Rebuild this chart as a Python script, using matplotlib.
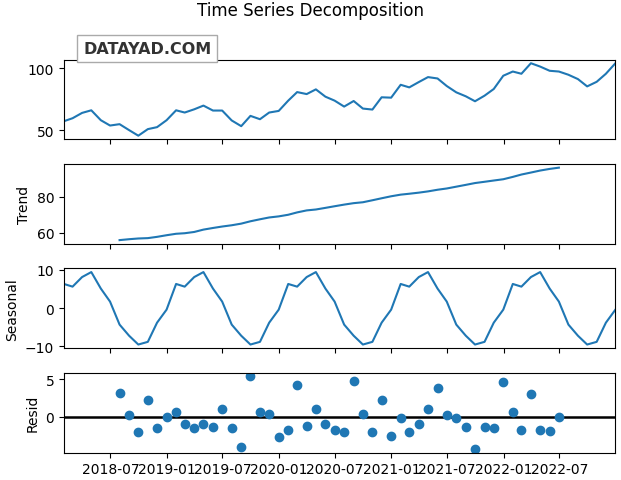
import matplotlib
matplotlib.use("Agg")
import matplotlib.pyplot as plt
import matplotlib.dates as mdates
import numpy as np
import pandas as pd

# monthly dates, month-end, 2018-01 .. 2022-12
dates = pd.date_range("2018-02-01", periods=60, freq="MS") - pd.Timedelta(days=1)

observed = [57.2, 59.6, 63.9, 66.0, 58.0, 53.7, 54.8, 50.0, 45.5, 50.8,
            52.4, 58.0, 66.0, 64.2, 66.8, 69.8, 65.8, 65.8, 57.8, 53.2,
            61.5, 58.8, 64.2, 65.5, 73.8, 80.7, 79.1, 82.9, 77.0, 73.8,
            69.0, 73.5, 67.4, 66.6, 76.5, 76.2, 86.6, 84.5, 88.8, 92.8,
            91.7, 85.6, 80.5, 77.3, 73.3, 77.8, 83.2, 93.9, 97.3, 95.5,
            104.0, 101.3, 97.9, 97.3, 94.7, 91.2, 85.3, 89.0, 95.5, 104.0]

# trend exists from 2018-07 to 2022-06 (6 missing at each end)
trend_vals = [56.0, 56.5, 56.9, 57.1, 57.8, 58.7, 59.5, 59.8, 60.5, 61.8,
              62.7, 63.5, 64.2, 65.1, 66.4, 67.5, 68.5, 69.1, 70.0, 71.3,
              72.4, 72.9, 73.8, 74.7, 75.6, 76.4, 76.9, 78.0, 79.1, 80.2,
              81.1, 81.6, 82.2, 82.9, 83.8, 84.5, 85.5, 86.5, 87.5, 88.2,
              88.9, 89.6, 90.9, 92.2, 93.3, 94.4, 95.3, 96.0]

seasonal = [6.3, 5.6, 8.1, 9.4, 5.1, 1.7, -4.3, -7.2, -9.5, -8.8, -3.8, -0.4,
            6.3, 5.6, 8.1, 9.4, 5.1, 1.7, -4.3, -7.2, -9.5, -8.8, -3.8, -0.4,
            6.3, 5.6, 8.1, 9.4, 5.1, 1.7, -4.3, -7.2, -9.5, -8.8, -3.8, -0.4,
            6.3, 5.6, 8.1, 9.4, 5.1, 1.7, -4.3, -7.2, -9.5, -8.8, -3.8, -0.4,
            6.3, 5.6, 8.1, 9.4, 5.1, 1.7, -4.3, -7.2, -9.5, -8.8, -3.8, -0.4]

resid_vals = [3.2, 0.2, -2.0, 2.3, -1.5, 0.0, 0.7, -0.9, -1.5, -0.9,
              -1.3, 1.0, -1.5, -4.1, 5.4, 0.7, 0.4, -2.7, -1.7, 4.2,
              -1.2, 1.1, -1.0, -1.8, -2.0, 4.8, 0.4, -2.0, 2.3, -2.6,
              -0.1, -2.0, -0.9, 1.1, 3.8, 0.2, -0.1, -1.4, -4.3, -1.4,
              -1.5, 4.7, 0.6, -1.7, 3.1, -1.8, -1.9, 0.0]

trend = pd.Series(np.nan, index=dates)
trend.iloc[6:54] = trend_vals
resid = pd.Series(np.nan, index=dates)
resid.iloc[6:54] = resid_vals

fig, axes = plt.subplots(4, 1, sharex=True, figsize=(6.21, 4.81), dpi=100)
fig.subplots_adjust(left=0.103, right=0.991, top=0.874, bottom=0.057, hspace=0.31)
fig.suptitle("Time Series Decomposition", y=0.995)

axes[0].plot(dates, observed)
axes[1].plot(dates, trend)
axes[1].set_ylabel("Trend")
axes[2].plot(dates, seasonal)
axes[2].set_ylabel("Seasonal")
axes[3].plot(dates, resid, marker="o", linestyle="none")
axes[3].axhline(0, color="black", lw=1.8, zorder=-3)
axes[3].set_ylabel("Resid")

axes[0].set_yticks([50, 100])
axes[1].set_yticks([60, 80])
axes[2].set_yticks([-10, 0, 10])
axes[3].set_yticks([0, 5])

axes[3].set_xlim(dates[0], dates[-1])
axes[3].xaxis.set_major_locator(mdates.MonthLocator(bymonth=[1, 7]))
axes[3].xaxis.set_major_formatter(mdates.DateFormatter("%Y-%m"))

# watermark (logo box above the first panel)
fig.text(0.237, 0.897, "DATAYAD.COM", ha="center", va="center",
         fontsize=11.5, fontweight="bold", family="DejaVu Sans",
         color="#333333", zorder=0,
         bbox=dict(boxstyle="square,pad=0.35", fc="white", ec="#aaaaaa", lw=1))

fig.savefig("out.png", dpi=100)
